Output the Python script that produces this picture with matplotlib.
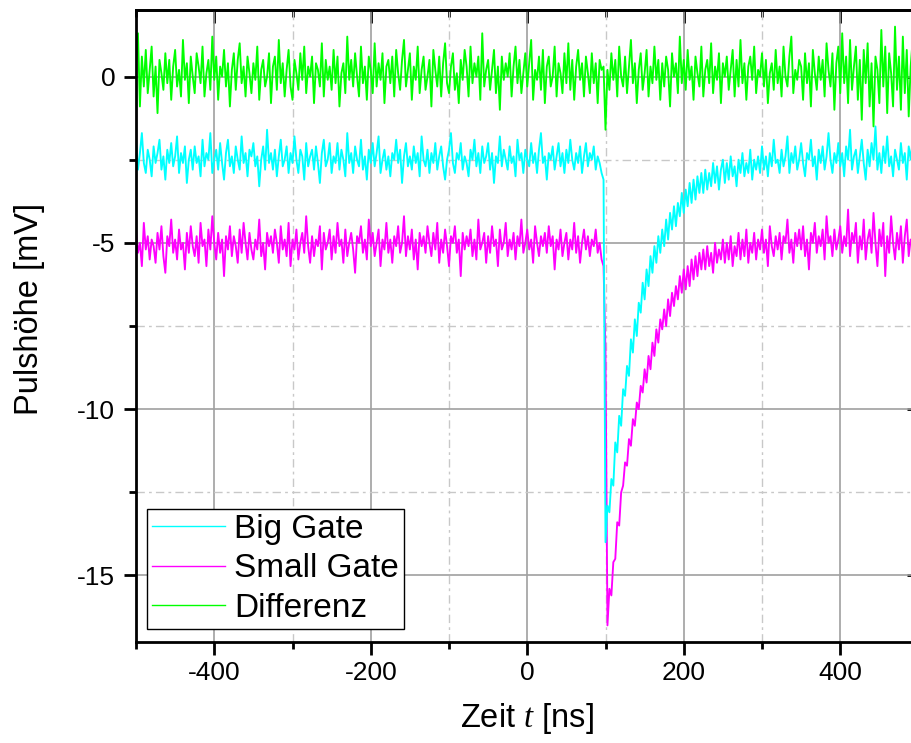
import numpy as np
import matplotlib
matplotlib.use("Agg")
import matplotlib.pyplot as plt
from matplotlib.ticker import MultipleLocator

plt.rcParams["font.family"] = ["Liberation Sans", "DejaVu Sans"]
plt.rcParams["axes.unicode_minus"] = False
plt.rcParams["mathtext.fontset"] = "custom"
plt.rcParams["mathtext.it"] = "Liberation Serif:italic"

# time base of the scope trace, 2.5 ns per sample
t_ns = np.linspace(-500, 500, 401)

big_gate = [
    -2.0, -2.8, -2.3, -1.7, -2.6, -2.9, -2.2, -2.5, -3.0, -2.1,
    -2.6, -2.3, -1.9, -2.8, -2.4, -3.1, -2.2, -2.6, -2.0, -2.7,
    -2.4, -1.8, -2.9, -2.3, -2.6, -2.1, -3.2, -2.5, -2.2, -2.8,
    -2.1, -2.6, -2.4, -3.0, -1.9, -2.7, -2.3, -2.5, -1.7, -2.9,
    -2.5, -2.2, -2.8, -2.0, -2.6, -3.1, -2.3, -1.9, -2.7, -2.4,
    -2.9, -2.1, -2.5, -2.8, -1.8, -2.6, -2.3, -3.0, -2.2, -2.4,
    -2.0, -2.7, -2.4, -3.3, -2.5, -2.1, -2.8, -1.6, -2.6, -2.3,
    -2.8, -2.2, -3.0, -2.4, -1.9, -2.7, -2.5, -2.1, -2.9, -2.3,
    -2.6, -1.8, -2.5, -2.9, -2.2, -2.4, -3.1, -2.0, -2.7, -2.4,
    -2.2, -2.8, -2.1, -2.6, -3.2, -2.3, -1.9, -2.7, -2.5, -2.0,
    -2.9, -2.4, -2.6, -2.0, -2.8, -2.2, -2.5, -3.0, -1.7, -2.6,
    -2.3, -2.9, -2.1, -2.5, -2.7, -1.9, -2.8, -2.4, -3.1, -2.2,
    -2.6, -2.0, -2.7, -2.3, -1.8, -2.9, -2.5, -2.2, -2.8, -2.4,
    -3.0, -2.3, -2.5, -1.9, -2.6, -2.2, -3.2, -2.4, -2.0, -2.7,
    -2.4, -2.8, -2.1, -2.6, -2.3, -3.0, -1.8, -2.5, -2.7, -2.2,
    -2.9, -2.3, -2.6, -2.0, -2.8, -2.4, -2.1, -2.7, -3.1, -2.5,
    -2.2, -1.7, -2.6, -2.9, -2.3, -2.5, -2.0, -2.8, -2.4, -2.6,
    -3.0, -2.2, -2.5, -1.9, -2.7, -2.3, -2.9, -2.1, -2.6, -2.4,
    -2.0, -2.8, -2.3, -3.2, -2.4, -2.6, -1.8, -2.7, -2.2, -2.5,
    -2.8, -2.1, -2.6, -2.4, -3.0, -1.9, -2.5, -2.3, -2.9, -2.2,
    -2.5, -2.7, -2.0, -2.6, -2.3, -2.9, -2.2, -1.7, -2.6, -2.4,
    -3.1, -2.3, -2.5, -2.1, -2.8, -2.4, -2.0, -2.7, -2.3, -2.9,
    -2.2, -2.6, -1.9, -2.5, -2.8, -2.3, -2.6, -2.1, -2.9, -2.4,
    -2.0, -2.7, -2.3, -2.5, -2.1, -2.8, -2.4, -2.6, -2.9, -3.1,
    -14.0, -12.9, -13.1, -12.1, -12.3, -11.0, -11.3, -10.2, -10.5, -9.4,
    -9.6, -8.7, -9.0, -7.9, -8.3, -7.3, -7.8, -6.8, -7.1, -6.2,
    -6.7, -5.8, -6.3, -5.4, -5.9, -5.1, -5.6, -4.8, -5.3, -4.6,
    -5.1, -4.3, -4.9, -4.1, -4.6, -3.9, -4.5, -3.8, -4.2, -3.5,
    -4.1, -3.4, -3.9, -3.2, -3.8, -3.1, -3.7, -3.0, -3.5, -2.9,
    -3.5, -2.8, -3.4, -2.9, -3.3, -2.6, -3.2, -2.7, -3.4, -2.8,
    -2.5, -3.2, -2.6, -3.1, -2.4, -3.0, -2.7, -3.3, -2.5, -2.9,
    -2.3, -3.0, -2.6, -2.9, -2.2, -3.1, -2.5, -2.8, -2.4, -2.9,
    -2.1, -2.8, -2.4, -3.0, -2.3, -2.7, -1.9, -2.6, -2.5, -2.9,
    -2.2, -2.7, -2.4, -1.8, -2.9, -2.3, -2.6, -2.1, -2.8, -2.5,
    -2.0, -2.6, -3.0, -2.3, -2.5, -1.9, -2.7, -2.4, -3.1, -2.2,
    -2.6, -2.1, -2.8, -2.4, -1.7, -2.5, -2.9, -2.3, -2.6, -2.0,
    -2.7, -2.3, -3.0, -2.1, -2.5, -1.6, -2.8, -2.4, -2.2, -2.9,
    -2.4, -1.9, -2.6, -3.1, -2.2, -2.7, -2.0, -2.5, -1.5, -2.8,
    -2.3, -2.9, -2.1, -2.6, -1.8, -2.7, -2.4, -3.0, -2.2, -2.5,
    -2.8, -2.0, -2.6, -2.3, -3.1, -2.1, -2.5, -1.9, -2.7, -2.4,
    -2.3,
]

small_gate = [
    -4.6, -5.3, -5.0, -5.7, -4.4, -5.2, -4.8, -5.5, -4.9, -5.1,
    -5.6, -4.7, -5.2, -4.5, -5.4, -5.9, -4.8, -5.1, -4.3, -5.3,
    -4.9, -5.5, -4.6, -5.2, -5.0, -5.8, -4.7, -5.3, -4.5, -5.1,
    -5.4, -4.8, -5.6, -4.4, -5.1, -4.9, -5.7, -4.6, -5.2, -4.2,
    -5.0, -5.5, -4.7, -5.3, -4.9, -6.0, -4.8, -5.2, -4.5, -5.4,
    -4.8, -5.1, -5.6, -4.6, -5.3, -4.4, -5.0, -5.5, -4.7, -5.2,
    -5.5, -4.9, -5.2, -4.3, -5.4, -5.0, -5.8, -4.7, -5.1, -4.8,
    -5.3, -4.6, -5.0, -5.6, -4.5, -5.2, -4.9, -5.4, -4.4, -5.7,
    -4.9, -5.2, -4.6, -5.5, -5.0, -4.7, -5.3, -4.2, -5.1, -5.6,
    -4.8, -5.4, -4.9, -5.1, -4.5, -5.8, -4.7, -5.2, -5.0, -4.6,
    -5.5, -4.8, -5.3, -4.4, -5.1, -4.9, -5.6, -4.6, -5.4, -5.0,
    -4.7, -5.2, -5.9, -4.8, -5.0, -4.5, -5.3, -4.9, -5.5, -4.3,
    -5.1, -4.7, -5.4, -5.0, -4.6, -5.7, -4.9, -5.2, -4.4, -5.3,
    -4.9, -5.6, -4.8, -5.1, -4.5, -5.3, -5.0, -4.2, -5.4, -4.8,
    -5.2, -4.6, -5.5, -4.9, -5.8, -4.7, -5.1, -4.8, -5.3, -4.5,
    -5.0, -5.4, -4.7, -5.2, -4.4, -5.6, -4.9, -5.3, -4.6, -5.1,
    -5.7, -4.8, -5.0, -4.5, -5.3, -4.9, -6.0, -4.7, -5.2, -4.8,
    -5.1, -4.6, -5.4, -4.9, -5.5, -4.3, -5.2, -5.0, -4.7, -5.6,
    -4.8, -5.3, -4.5, -5.1, -4.9, -5.7, -4.6, -5.2, -5.0, -4.4,
    -5.4, -4.9, -5.2, -4.7, -5.5, -4.8, -5.1, -4.3, -5.3, -5.0,
    -4.6, -5.2, -4.9, -5.6, -4.5, -5.0, -5.4, -4.8, -5.1, -4.7,
    -5.3, -4.5, -5.1, -4.8, -5.8, -4.9, -5.2, -4.6, -5.4, -5.0,
    -4.7, -5.5, -4.9, -5.2, -4.4, -5.3, -4.8, -5.6, -5.0, -4.6,
    -5.2, -4.8, -5.4, -4.9, -5.1, -4.6, -5.3, -5.0, -5.5, -5.7,
    -8.3, -16.5, -15.4, -15.6, -14.6, -14.5, -13.4, -13.5, -12.5, -12.3,
    -11.6, -11.7, -10.9, -11.1, -10.3, -10.5, -9.8, -10.0, -9.3, -9.5,
    -8.8, -9.2, -8.4, -8.8, -8.0, -8.4, -7.6, -8.0, -7.3, -7.6,
    -7.0, -7.5, -6.7, -7.2, -6.5, -6.9, -6.3, -6.7, -6.0, -6.5,
    -5.8, -6.4, -5.7, -6.3, -5.5, -6.1, -5.4, -6.0, -5.3, -5.8,
    -5.2, -5.8, -5.1, -5.7, -5.3, -5.9, -5.0, -5.6, -5.2, -5.5,
    -4.9, -5.6, -5.0, -5.5, -4.8, -5.7, -5.1, -5.4, -4.7, -5.5,
    -4.9, -5.4, -4.6, -5.6, -5.0, -5.3, -4.7, -5.5, -4.9, -5.2,
    -4.6, -5.3, -4.9, -5.7, -4.5, -5.1, -5.4, -4.8, -5.2, -4.7,
    -5.5, -4.8, -5.0, -4.3, -5.3, -4.9, -5.6, -4.7, -5.1, -4.6,
    -5.2, -4.5, -5.4, -4.9, -5.8, -4.7, -5.0, -4.4, -5.3, -4.8,
    -5.1, -4.6, -5.5, -4.2, -5.0, -4.8, -5.4, -4.6, -5.2, -4.9,
    -4.5, -5.3, -4.8, -5.1, -4.0, -5.4, -4.7, -5.0, -4.4, -5.6,
    -4.8, -5.2, -4.3, -5.5, -4.9, -4.6, -5.3, -4.1, -5.0, -5.7,
    -4.6, -5.1, -4.4, -6.0, -4.8, -5.3, -4.2, -5.0, -5.5, -4.7,
    -5.2, -4.5, -5.6, -4.8, -4.3, -5.4, -4.9, -5.1, -4.4, -5.3,
    -4.9,
]

differenz = [
    0.4, 1.3, -0.9, 0.6, -0.3, 0.8, -0.5, 0.2, 0.9, -0.6,
    0.3, -1.1, 0.5, 0.1, -0.4, 0.7, -0.2, 0.5, -0.7, 0.3,
    0.8, -0.3, 0.2, -0.6, 1.1, -0.1, 0.4, -0.8, 0.6, 0.0,
    -0.5, 0.7, 0.3, -0.2, 0.9, -0.6, 0.1, 0.5, -0.4, 1.2,
    -0.1, 0.6, -0.7, 0.3, 0.0, 0.8, -0.3, 0.4, -0.9, 0.2,
    0.7, -0.4, 0.5, 1.0, -0.2, 0.3, -0.6, 0.6, 0.1, -0.5,
    0.4, -0.1, 0.9, -0.7, 0.2, 0.5, -0.3, 0.0, 0.7, -0.8,
    0.3, 0.6, -0.4, 1.1, -0.2, 0.4, -0.6, 0.2, 0.8, -0.3,
    -0.7, 0.5, 0.1, -0.4, 0.7, -0.1, 0.9, -0.5, 0.3, 0.0,
    0.6, -0.8, 0.4, 0.2, -0.3, 1.0, -0.6, 0.5, -0.1, 0.3,
    -0.4, 0.8, -0.2, 0.6, -0.9, 0.1, 0.4, -0.5, 1.2, -0.1,
    0.5, -0.3, 0.7, 0.0, -0.6, 0.9, -0.2, 0.3, -0.7, 0.6,
    0.2, -0.5, 1.0, -0.3, 0.4, -0.1, 0.7, -0.8, 0.3, 0.5,
    -0.2, 0.6, -0.6, 0.8, 0.1, -0.4, 0.5, 1.1, -0.3, 0.2,
    0.7, -0.7, 0.3, -0.1, 0.9, -0.5, 0.2, 0.6, -0.4, 0.0,
    0.5, -0.9, 0.8, 0.2, -0.3, 0.6, -0.6, 0.4, 1.0, -0.2,
    -0.5, 0.3, 0.7, -0.4, 0.1, -0.8, 0.5, -0.1, 0.8, 0.3,
    -0.6, 0.9, -0.2, 0.4, 0.0, 0.6, -0.7, 1.3, -0.3, 0.2,
    0.5, -0.4, 0.2, 0.8, -0.5, 0.3, -1.0, 0.6, -0.1, 0.4,
    0.0, 0.7, -0.6, 0.3, 0.9, -0.2, 0.5, -0.5, 0.1, 0.7,
    -0.3, 0.4, 1.1, -0.7, 0.2, -0.1, 0.6, -0.4, 0.8, -0.8,
    0.3, 0.6, -0.3, 0.0, 0.9, -0.6, 0.4, 0.1, -0.5, 0.7,
    -0.2, 1.0, -0.4, 0.5, -0.7, 0.3, 0.8, -0.1, 0.4, -0.6,
    0.6, 0.1, -0.5, 0.7, -0.2, 0.4, -0.8, 0.5, 0.2, 0.3,
    -1.6, 0.2, -0.4, 0.7, -0.1, 0.5, -0.6, 0.9, 0.0, -0.3,
    0.6, -0.5, 0.3, 1.1, -0.2, 0.4, -0.8, 0.2, 0.7, -0.4,
    0.1, 0.8, -0.6, 0.3, -0.2, 0.9, -0.1, 0.5, -0.7, 0.4,
    -0.3, 0.6, 0.2, -0.9, 0.7, 0.0, 0.4, -0.5, 1.2, -0.2,
    0.5, -0.4, 0.8, -0.1, 0.3, -0.7, 0.6, 0.1, -0.3, 0.9,
    -0.6, 0.2, 0.5, -0.2, 1.0, -0.5, 0.3, -0.1, 0.7, -0.8,
    0.4, 0.0, 0.6, -0.4, 0.2, 0.8, -0.6, 0.5, -0.3, 1.1,
    -0.2, 0.4, -0.7, 0.3, 0.6, -0.1, 0.9, -0.5, 0.2, 0.0,
    0.7, -0.3, 0.5, -0.8, 0.1, 0.4, -0.4, 0.8, -0.2, 0.3,
    -0.6, 0.9, 0.0, -0.3, 0.6, 1.2, -0.5, 0.2, -0.1, 0.5,
    0.3, -0.7, 0.7, -0.2, 0.4, -0.9, 0.8, 0.1, -0.4, 0.6,
    -0.1, 0.5, -0.6, 1.0, 0.2, -0.3, 0.7, -1.0, 0.4, 0.9,
    -0.5, 1.3, -0.2, 0.6, -0.8, 1.1, -0.4, 0.3, 0.9, -0.7,
    0.5, -1.3, 0.8, -0.2, 1.0, -0.9, 0.4, -1.5, 0.6, 0.2,
    -0.8, 1.4, -0.3, 0.9, -1.1, 0.7, 0.1, -0.9, 1.5, -0.4,
    0.6, -1.0, 1.2, -0.5, 0.8, -1.2, 0.3, 1.1, -0.6, 0.4,
    -0.2,
]

x_major = [-400, -200, 0, 200, 400]
y_major = [0, -5, -10, -15]

W, H = 911, 743
fig = plt.figure(figsize=(W / 100, H / 100), dpi=100)
# axes run a little past the right edge of the canvas
ax = fig.add_axes([136 / W, 1 - 642 / H, (918.5 - 136) / W, (642 - 10) / H])

ax.set_xlim(-500, 500)
ax.set_ylim(-17, 2)
ax.set_xticks(x_major)
ax.set_yticks(y_major)
ax.xaxis.set_minor_locator(MultipleLocator(100))
ax.yaxis.set_minor_locator(MultipleLocator(2.5))

ax.grid(which="major", color="#a0a0a0", lw=1.2, ls="-")
ax.grid(which="minor", color="#c8c8c8", lw=1.0, ls=(0, (6, 3, 2, 3)))
ax.set_axisbelow(True)

ln_small, = ax.plot(t_ns, small_gate, color="#ff00ff", lw=1.35)
ln_big, = ax.plot(t_ns, big_gate, color="#00ffff", lw=1.35)
ln_diff, = ax.plot(t_ns, differenz, color="#00ff00", lw=1.35)

for sp in ax.spines.values():
    sp.set_linewidth(2.0)

ax.tick_params(which="major", direction="out", length=9, width=2.0, labelsize=19)
ax.tick_params(axis="y", which="major", pad=6)
ax.tick_params(axis="x", which="major", pad=5)
ax.tick_params(which="minor", direction="out", length=5, width=2.0)

# mirrored ticks on top and right point inwards
top = ax.secondary_xaxis("top")
top.set_xticks(x_major)
top.xaxis.set_minor_locator(MultipleLocator(100))
top.tick_params(which="major", direction="in", length=9, width=2.0, labeltop=False)
top.tick_params(which="minor", direction="in", length=5, width=2.0)
top.spines["top"].set_linewidth(2.0)

right = ax.secondary_yaxis("right")
right.set_yticks(y_major)
right.yaxis.set_minor_locator(MultipleLocator(2.5))
right.tick_params(which="major", direction="in", length=9, width=2.0, labelright=False)
right.tick_params(which="minor", direction="in", length=5, width=2.0)
right.spines["right"].set_linewidth(2.0)

ax.set_xlabel(r"Zeit $t$ [ns]", fontsize=23.5)
ax.set_ylabel("Pulshöhe [mV]", fontsize=23.5)
ax.xaxis.set_label_coords(0.499, -0.0934)
ax.yaxis.set_label_coords(-0.1163, 0.527)

leg = ax.legend([ln_big, ln_small, ln_diff], ["Big Gate", "Small Gate", "Differenz"],
                loc="lower left", bbox_to_anchor=(147 / W, 1 - 629 / H),
                bbox_transform=fig.transFigure, borderaxespad=0,
                fontsize=24, frameon=True, fancybox=False, framealpha=1,
                edgecolor="black", handlelength=2.2, handletextpad=0.26,
                labelspacing=0.26, borderpad=0.15)
leg.get_frame().set_linewidth(1.0)
for h in leg.get_lines():
    h.set_linewidth(1.0)

fig.savefig("out.png", dpi=100)
